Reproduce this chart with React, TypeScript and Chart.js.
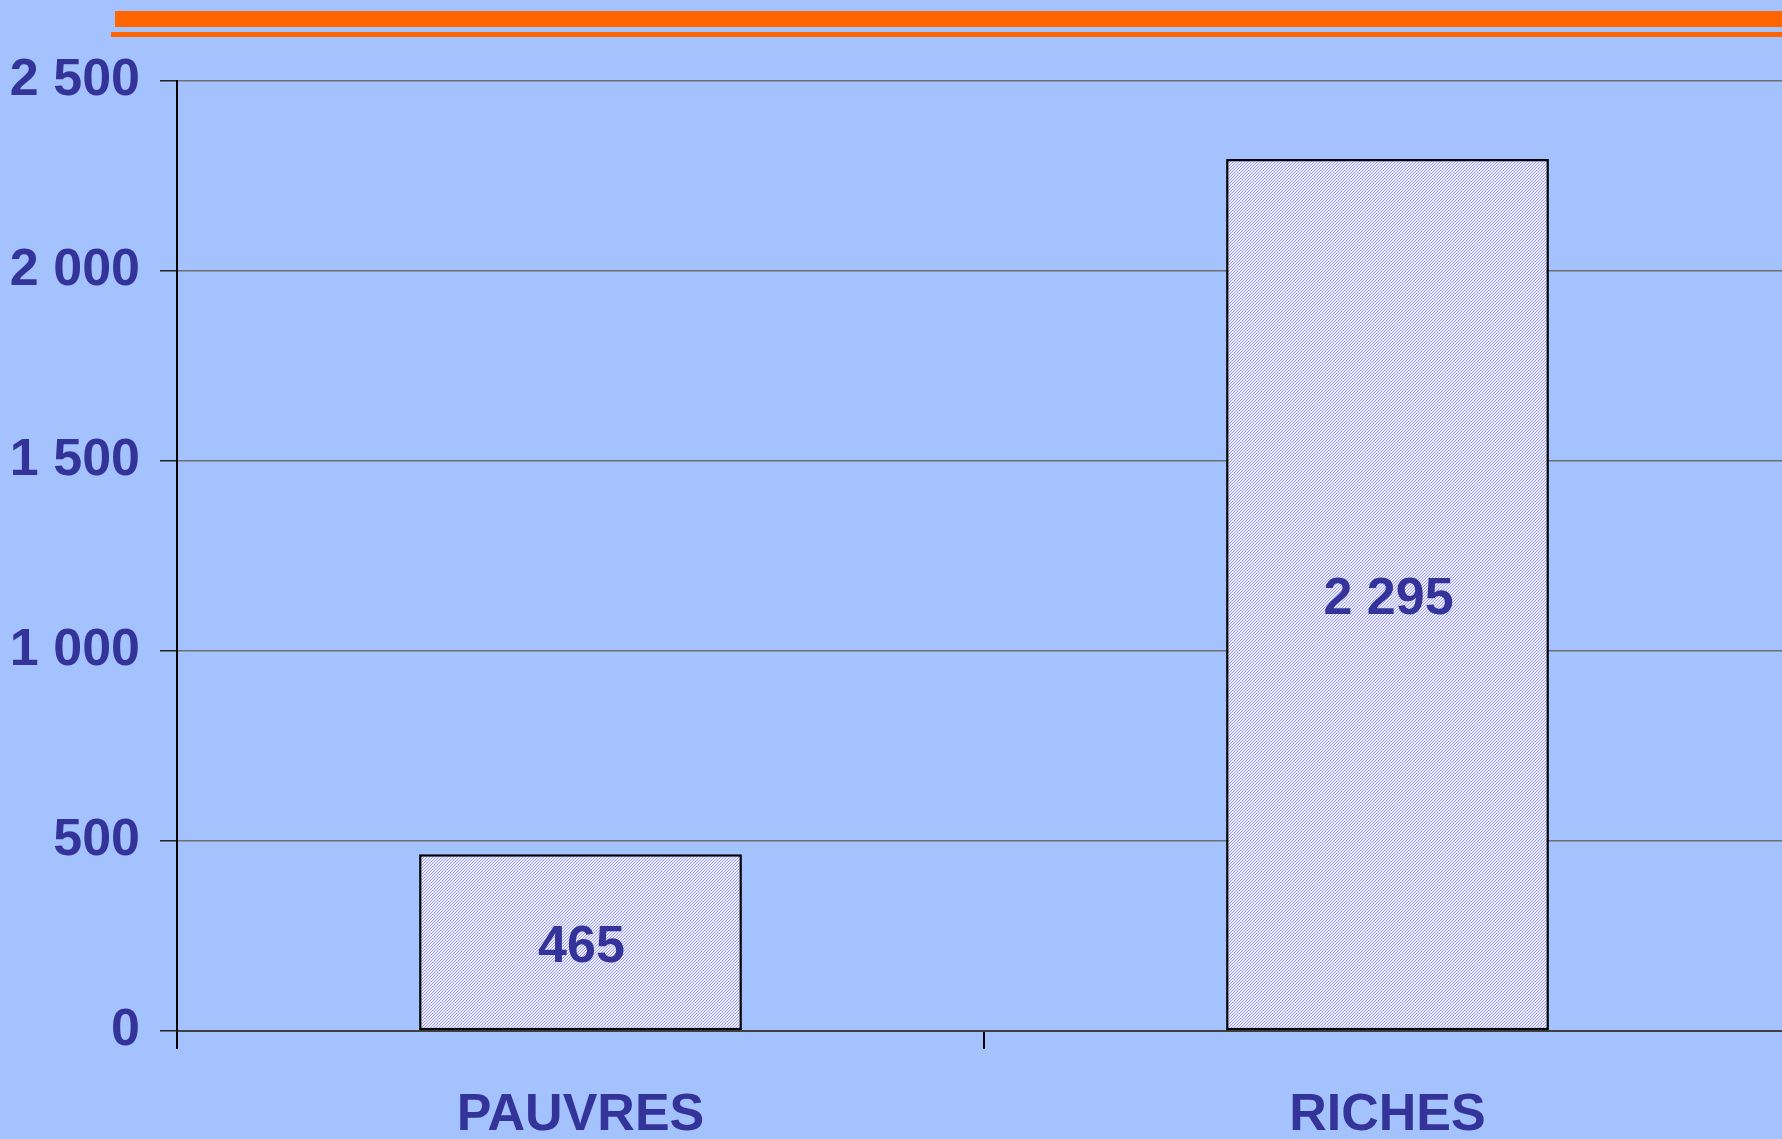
import React, { useEffect, useRef } from 'react';
import { Chart, registerables } from 'chart.js';

Chart.register(...registerables);

const categories = ['PAUVRES', 'RICHES'];
const values = [465, 2295];
const yTickLabels = ['0', '500', '1 000', '1 500', '2 000', '2 500'];
const yMin = 0;
const yMax = 2500;
const yStep = 500;

const TEXT = '#333399';
const BG = '#A4C2FE';
const ORANGE = '#FF6600';
const FONT = '"Liberation Sans", Arial, sans-serif';

const fmt = (v: number) => String(v).replace(/\B(?=(\d{3})+(?!\d))/g, ' ');

function makePattern(ctx: CanvasRenderingContext2D) {
  const c = document.createElement('canvas');
  c.width = 3;
  c.height = 3;
  const g = c.getContext('2d')!;
  g.fillStyle = '#ECECFF';
  g.fillRect(0, 0, 3, 3);
  g.fillStyle = '#9C9CFF';
  for (let i = 0; i < 3; i++) g.fillRect(i, 2 - i, 1, 1);
  return ctx.createPattern(c, 'repeat');
}

const valueLabels = {
  id: 'valueLabels',
  afterDatasetsDraw(chart: any) {
    const ctx = chart.ctx;
    const meta = chart.getDatasetMeta(0);
    ctx.save();
    ctx.fillStyle = TEXT;
    ctx.font = `bold 52px ${FONT}`;
    ctx.textAlign = 'center';
    ctx.textBaseline = 'middle';
    meta.data.forEach((el: any, i: number) => {
      const v = chart.data.datasets[0].data[i];
      ctx.fillText(fmt(v), el.x + 1, (el.y + el.base) / 2 + 5);
    });
    ctx.restore();
  },
};

export default function App() {
  const ref = useRef<HTMLCanvasElement>(null);
  useEffect(() => {
    document.body.style.margin = '0';
    const canvas = ref.current!;
    const ctx = canvas.getContext('2d')!;
    const pattern = makePattern(ctx);
    const chart = new Chart(canvas, {
      type: 'bar',
      data: {
        labels: categories,
        datasets: [
          {
            data: values,
            backgroundColor: pattern as any,
            borderColor: '#000000',
            borderWidth: 2.5,
            borderSkipped: false,
            barPercentage: 0.4,
            categoryPercentage: 1.0,
          },
        ],
      },
      options: {
        responsive: false,
        animation: false,
        layout: { padding: { top: 81, right: 9, left: 0, bottom: 0 } },
        plugins: { legend: { display: false }, tooltip: { enabled: false } },
        scales: {
          x: {
            offset: true,
            grid: {
              offset: true,
              drawOnChartArea: false,
              drawTicks: true,
              tickLength: 18,
              tickColor: '#000000',
              lineWidth: 2,
            },
            border: { display: true, color: '#404040', width: 2 },
            ticks: {
              color: TEXT,
              font: { family: FONT, size: 52, weight: 'bold' },
              padding: 35,
              maxRotation: 0,
            },
            afterFit: (s: any) => {
              s.height = 108;
            },
          },
          y: {
            min: yMin,
            max: yMax,
            ticks: {
              stepSize: yStep,
              color: TEXT,
              font: { family: FONT, size: 52, weight: 'bold' },
              padding: 20,
              callback: (_v: any, i: number) => yTickLabels[i],
            },
            grid: {
              color: '#6e6e6e',
              lineWidth: 1.5,
              tickLength: 17,
              tickColor: '#222222',
            },
            border: { display: true, color: '#000000', width: 2 },
            afterFit: (s: any) => {
              s.width = 177;
            },
          },
        },
      },
      plugins: [valueLabels],
    });
    return () => chart.destroy();
  }, []);

  return (
    <div
      style={{
        position: 'fixed',
        left: 0,
        top: 0,
        width: 1782,
        height: 1139,
        overflow: 'hidden',
        background: BG,
      }}
    >
      <canvas ref={ref} width={1800} height={1139} style={{ display: 'block', position: 'absolute', left: 0, top: 0 }} />
      <div style={{ position: 'absolute', left: 115, top: 11, width: 1700, height: 16, background: ORANGE }} />
      <div style={{ position: 'absolute', left: 111, top: 32, width: 1700, height: 5, background: ORANGE }} />
    </div>
  );
}
